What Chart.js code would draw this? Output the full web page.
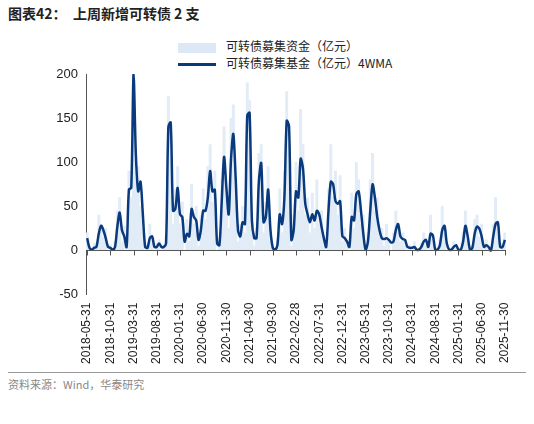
<!DOCTYPE html>
<html><head><meta charset="utf-8">
<script src="https://cdn.jsdelivr.net/npm/chart.js@4"></script>
<style>
body{margin:0;width:534px;height:424px;background:#fff;font-family:"Noto Sans CJK SC",sans-serif;position:relative;overflow:hidden}
#title{position:absolute;left:8px;top:3px;font-size:14px;font-weight:bold;color:#222}
#legend{position:absolute;left:178px;top:37px;font-size:12px;color:#222;line-height:17px}
.sw{display:inline-block;width:38px;vertical-align:middle;margin-right:10px}
#foot{position:absolute;left:8px;top:372px;width:518px;border-top:1px solid #999;font-size:11px;color:#888;padding-top:3px}
#wrap{position:absolute;left:0;top:37px;width:534px;height:335px}
</style></head><body>
<div id="title">图表42：&nbsp;&nbsp;上周新增可转债 2 支</div>
<div id="legend">
<div><span class="sw" style="height:10px;background:#dce8f5"></span>可转债募集资金（亿元）</div>
<div><span class="sw" style="height:3px;background:#0a3a7e"></span>可转债募集基金（亿元）4WMA</div>
</div>
<div id="wrap"><canvas id="c"></canvas></div>
<div id="foot">资料来源：Wind，华泰研究</div>
<script>
// half-month periods from 2018-05-31
const tickLabels = ['2018-05-31','2018-10-31','2019-03-31','2019-08-31','2020-01-31','2020-06-30','2020-11-30','2021-04-30','2021-09-30','2022-02-28','2022-07-31','2022-12-31','2023-05-31','2023-10-31','2024-03-31','2024-08-31','2025-01-31','2025-06-30','2025-11-30'];

const wma = [14,3,1,3,4,19,28,23,14,4,3,1,4,27,43,23,16,4,69,71,
  200,108,67,78,41,4,3,14,16,4,4,8,4,4,8,140,145,45,47,71,
  41,38,10,19,16,47,38,34,12,23,45,45,60,90,67,69,8,6,56,106,
  71,41,104,132,82,23,16,32,30,153,156,34,14,14,78,99,32,38,69,23,
  3,1,6,41,30,60,147,141,12,23,67,60,104,93,53,41,32,41,34,45,
  41,27,14,4,45,78,75,56,53,56,16,14,10,4,38,34,64,67,45,19,
  1,10,45,75,60,38,23,14,13,14,12,9,10,23,30,16,13,12,4,3,
  3,4,1,1,4,10,12,4,19,17,1,1,6,23,28,8,1,1,4,6,
  1,1,10,28,16,1,3,19,27,25,16,4,6,4,0,16,30,32,4,4,12];

const raised = [20,5,0,8,2,40,30,15,25,0,6,0,10,45,60,10,28,0,90,60,
  260,80,95,50,20,0,6,30,10,0,8,12,0,6,15,175,130,30,70,95,
  30,55,0,35,10,75,30,50,5,40,70,35,95,120,55,90,0,10,80,140,
  60,25,150,165,60,10,30,50,20,190,170,20,5,25,110,120,20,55,95,10,
  0,0,12,70,20,90,180,120,5,40,100,45,160,120,40,60,20,65,25,80,
  30,45,5,0,70,120,60,90,40,85,10,25,5,0,65,25,100,80,30,40,
  0,20,80,110,45,60,15,25,5,30,10,0,20,45,25,10,20,5,0,6,
  0,10,0,0,8,20,5,0,40,10,0,0,12,50,20,0,0,0,10,3,
  0,0,20,45,10,0,6,35,40,15,30,0,12,0,0,30,60,20,0,8,20];

const cats = wma.map((v, i) => i);

const zeroAxis = {
  id: 'zeroAxis',
  afterDatasetsDraw(chart) {
    const {ctx, scales: {x, y}, chartArea} = chart;
    const y0 = y.getPixelForValue(0);
    ctx.save();
    ctx.strokeStyle = '#555'; ctx.lineWidth = 1;
    ctx.beginPath();
    ctx.moveTo(chartArea.left, y0); ctx.lineTo(chartArea.right, y0);
    tickLabels.forEach((t, k) => {
      const px = Math.round(x.getPixelForValue(k * 10)) + 0.5;
      ctx.moveTo(px, y0); ctx.lineTo(px, y0 + 5);
    });
    ctx.stroke();
    ctx.restore();
  }
};

new Chart(document.getElementById('c'), {
  data: {
    labels: cats,
    datasets: [
      {type: 'bar', data: raised, backgroundColor: '#e2ecf7', barPercentage: 1, categoryPercentage: 1, order: 2},
      {type: 'line', data: wma, borderColor: '#0a3a7e', borderWidth: 2.5, pointRadius: 0, tension: 0.3, order: 1}
    ]
  },
  options: {
    responsive: true, maintainAspectRatio: false, animation: false,
    layout: {padding: {top: 37, right: 28}},
    plugins: {legend: {display: false}, tooltip: {enabled: false}},
    scales: {
      x: {
        grid: {display: false, drawTicks: false}, border: {display: false},
        ticks: {autoSkip: false, maxRotation: 90, minRotation: 90, color: '#222', font: {size: 12, family: 'Liberation Sans'}, padding: 8,
          callback: (v) => v % 10 === 0 && tickLabels[v / 10] ? tickLabels[v / 10] : null}
      },
      y: {
        min: -50, max: 200,
        afterFit: (s) => { s.width = 86; },
        grid: {display: false, drawTicks: true, tickLength: 5},
        border: {display: true, color: '#555'},
        ticks: {stepSize: 50, color: '#222', font: {size: 13, family: 'Liberation Sans'}}
      }
    }
  },
  plugins: [zeroAxis]
});
</script>
</body></html>
